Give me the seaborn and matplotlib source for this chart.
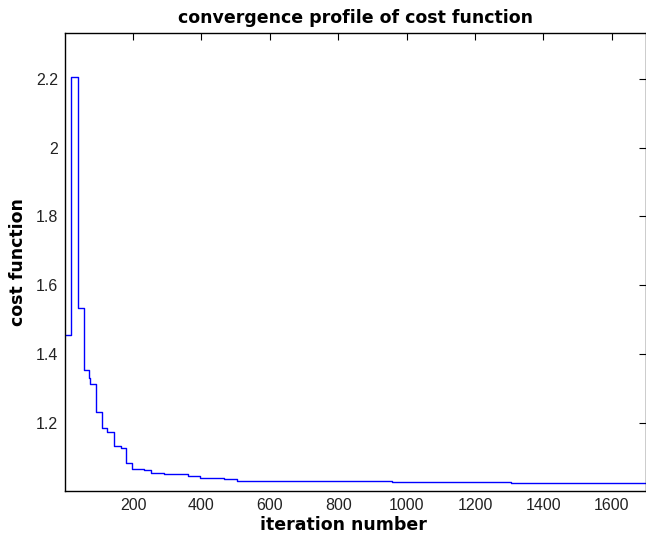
import numpy as np
import pandas as pd
import seaborn as sns
import matplotlib.pyplot as plt

# step change points of the cost function (x = iteration where the new value starts)
iterations = [1, 20, 39, 56, 72, 75, 92, 110, 124, 143, 164, 180, 198, 232, 252,
              290, 360, 396, 467, 503, 957, 1305, 1700]
cost = [1.455, 2.205, 1.534, 1.353, 1.331, 1.312, 1.231, 1.184, 1.172, 1.131, 1.127,
        1.083, 1.065, 1.061, 1.053, 1.049, 1.044, 1.040, 1.036, 1.031, 1.027, 1.023, 1.023]
xticks = [200, 400, 600, 800, 1000, 1200, 1400, 1600]
yticks = [1.2, 1.4, 1.6, 1.8, 2.0, 2.2]
ytick_labels = ["1.2", "1.4", "1.6", "1.8", "2", "2.2"]

sns.set_style("white")
plt.rcParams["font.family"] = ["DejaVu Sans"]
plt.rcParams["text.color"] = "black"
plt.rcParams["axes.labelcolor"] = "black"

df = pd.DataFrame({"iteration": iterations, "cost": cost})

fig = plt.figure(figsize=(6.46, 5.39), dpi=100)
ax = fig.add_axes([65 / 646, 48 / 539, 581 / 646, 458 / 539])

sns.lineplot(data=df, x="iteration", y="cost", color="#0000ff", linewidth=1.0,
             drawstyle="steps-post", estimator=None, ax=ax)

ax.set_xlim(1, 1700)
ax.set_ylim(1.001, 2.333)
ax.set_xticks(xticks)
ax.set_xticklabels([str(t) for t in xticks])
ax.set_yticks(yticks)
ax.set_yticklabels(ytick_labels)
ax.tick_params(direction="in", length=5, width=0.8, top=True, right=True,
               labelsize=11.5, colors="black", labelcolor="#222222", pad=5)
for lab in ax.get_xticklabels() + ax.get_yticklabels():
    lab.set_family("Liberation Sans")
for s in ax.spines.values():
    s.set_color("black")
    s.set_linewidth(1.0)

ax.set_title("convergence profile of cost function", fontsize=12.5, fontweight="bold",
             color="black", pad=7)
ax.set_xlabel("iteration number", fontsize=12.5, fontweight="bold", labelpad=1)
ax.xaxis.set_label_coords(0.48, -0.055)
ax.set_ylabel("cost function", fontsize=12.5, fontweight="bold", labelpad=6)

plt.savefig("out.png", dpi=100)
